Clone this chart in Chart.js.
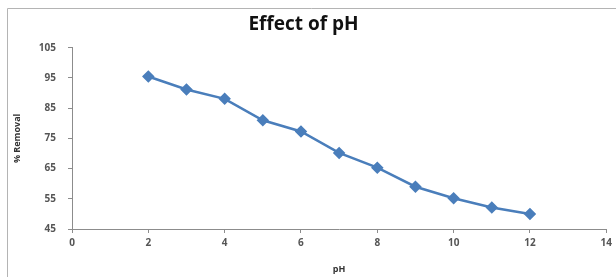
<!DOCTYPE html>
<html>
<head>
<meta charset="utf-8">
<script src="https://cdn.jsdelivr.net/npm/chart.js@4"></script>
<style>
  html, body { margin: 0; padding: 0; background: #fff; overflow: hidden; }
</style>
</head>
<body>
<canvas id="c" width="616" height="277"></canvas>
<script>
const pH = [2, 3, 4, 5, 6, 7, 8, 9, 10, 11, 12];
const removal = [95.5, 91.2, 88.1, 81.0, 77.3, 70.2, 65.3, 59.0, 55.2, 52.1, 50.0];
const chartTitle = "Effect of pH";
const xTitle = "pH";
const yTitle = "% Removal";
const xMin = 0, xMax = 14, xStep = 2;
const yMin = 45, yMax = 105, yStep = 10;

const points = pH.map((x, i) => ({ x: x, y: removal[i] }));

const framePlugin = {
  id: 'frame',
  beforeDraw(chart) {
    const ctx = chart.ctx;
    ctx.save();
    ctx.strokeStyle = '#b4b4b4';
    ctx.lineWidth = 1;
    ctx.beginPath();
    ctx.moveTo(7.5, 277);
    ctx.lineTo(7.5, 8.5);
    ctx.lineTo(616, 8.5);
    ctx.stroke();
    ctx.restore();
  }
};

new Chart(document.getElementById('c'), {
  type: 'scatter',
  data: {
    datasets: [{
      data: points,
      showLine: true,
      borderColor: '#4A7EBB',
      backgroundColor: '#4A7EBB',
      borderWidth: 2.5,
      pointStyle: 'rectRot',
      pointRadius: 4.5,
      pointHoverRadius: 4.5,
      tension: 0
    }]
  },
  plugins: [framePlugin],
  options: {
    responsive: false,
    animation: false,
    layout: { padding: { left: 0, right: 9, top: 0, bottom: 0 } },
    plugins: {
      legend: { display: false },
      tooltip: { enabled: false },
      title: {
        display: true,
        text: chartTitle,
        color: '#111',
        font: { family: 'Open Sans', size: 19, weight: 'bold' },
        padding: { top: 13, bottom: 12 }
      }
    },
    scales: {
      x: {
        type: 'linear',
        min: xMin, max: xMax,
        ticks: { stepSize: xStep, color: '#555', padding: 4,
          font: { family: 'Open Sans', size: 10, weight: 'bold' } },
        grid: { drawOnChartArea: false, drawTicks: true, tickLength: 4, color: '#8c8c8c' },
        border: { color: '#8c8c8c', width: 1 },
        title: { display: true, text: xTitle, color: '#333', padding: { top: 0, bottom: 2 },
          font: { family: 'Open Sans', size: 9, weight: 'bold' } },
        afterFit: (s) => { s.height = 48; }
      },
      y: {
        type: 'linear',
        min: yMin, max: yMax,
        ticks: { stepSize: yStep, color: '#555', padding: 12,
          font: { family: 'Open Sans', size: 10, weight: 'bold' } },
        grid: { drawOnChartArea: false, drawTicks: true, tickLength: 4, color: '#8c8c8c' },
        border: { color: '#8c8c8c', width: 1 },
        title: { display: true, text: yTitle, color: '#333', padding: { top: 12, bottom: 0 },
          font: { family: 'Open Sans', size: 9, weight: 'bold' } },
        afterFit: (s) => { s.width = 72; }
      }
    }
  }
});
</script>
</body>
</html>
